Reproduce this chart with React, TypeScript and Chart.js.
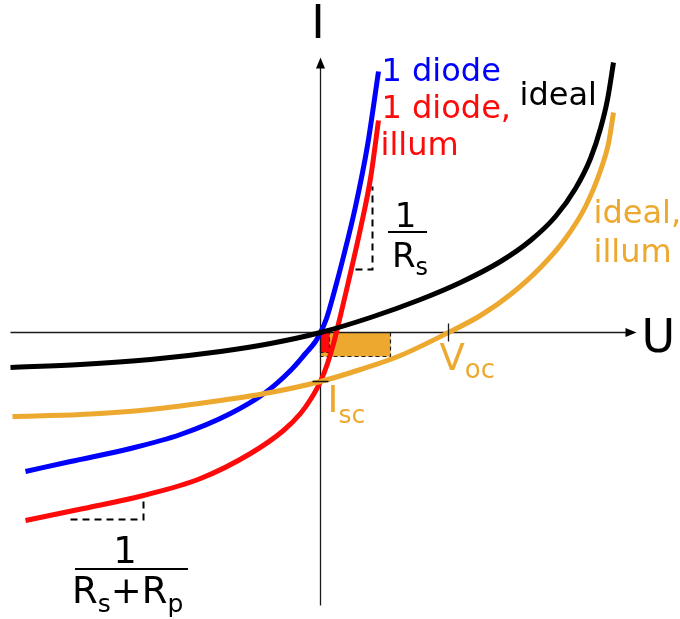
import React, { useEffect, useRef } from "react";
import { Chart, registerables } from "chart.js";

Chart.register(...registerables);

// Current–voltage curves (U horizontal, I vertical), arbitrary units.
const idealU = [-3.1, -2.4, -1.7, -1.0, -0.5, 0, 0.5, 1.0, 1.4, 1.8, 2.1, 2.35, 2.55, 2.7, 2.8, 2.87, 2.93];
const idealI = [-0.35, -0.32, -0.27, -0.19, -0.11, 0, 0.15, 0.33, 0.5, 0.71, 0.92, 1.16, 1.44, 1.74, 2.04, 2.33, 2.7];

const idealIllumU = [-3.08, -2.4, -1.7, -1.0, -0.5, 0, 0.4, 0.8, 1.28, 1.6, 1.9, 2.2, 2.45, 2.65, 2.8, 2.88, 2.93];
const idealIllumI = [-0.84, -0.82, -0.77, -0.68, -0.6, -0.49, -0.37, -0.23, 0, 0.17, 0.38, 0.65, 0.94, 1.26, 1.62, 1.89, 2.2];

const diodeU = [-2.95, -2.5, -1.9, -1.4, -0.9, -0.55, -0.3, -0.15, -0.05, 0, 0.06, 0.13, 0.23, 0.35, 0.47, 0.58];
const diodeI = [-1.39, -1.29, -1.16, -1.02, -0.81, -0.6, -0.38, -0.21, -0.09, 0, 0.14, 0.38, 0.76, 1.26, 1.87, 2.61];

const diodeIllumU = [-2.95, -2.37, -1.77, -1.2, -0.7, -0.37, -0.2, -0.1, 0, 0.07, 0.13, 0.2, 0.28, 0.4, 0.5, 0.58];
const diodeIllumI = [-1.88, -1.76, -1.63, -1.46, -1.21, -0.98, -0.81, -0.67, -0.49, -0.31, -0.11, 0.17, 0.51, 1.04, 1.54, 2.12];

// Characteristic points
const isc = -0.49;
const voc = 1.28;
const mppIdealIllum = [0.7, -0.24];
const mppDiodeIllum = [0.09, -0.2];

// Slope markers: [u start, u corner, i corner, i end]
const rsMarker = [0.35, 0.52, 0.63, 1.46];
const rpMarker = [-2.5, -1.77, -1.87, -1.66];

// Axis extents
const axisU = [-3.1, 3.16];
const axisI = [-2.73, 2.75];

const ORANGE = "#EDA92F";
const RED = "#FF0A0A";
const BLUE = "#0000FF";
const BLACK = "#000000";
const FONT = "'DejaVu Sans', 'Liberation Sans', sans-serif";

const toPoints = (u: number[], i: number[]) => u.map((v, k) => ({ x: v, y: i[k] }));

const annotations = {
  id: "ivAnnotations",
  beforeDatasetsDraw(chart: any) {
    const { ctx, scales } = chart;
    const px = (u: number) => scales.x.getPixelForValue(u);
    const py = (i: number) => scales.y.getPixelForValue(i);
    ctx.save();

    // maximum power rectangles
    const rect = (corner: number[], fill: string) => {
      const x0 = px(0), y0 = py(0), x1 = px(corner[0]), y1 = py(corner[1]);
      ctx.fillStyle = fill;
      ctx.fillRect(x0, y0, x1 - x0, y1 - y0);
      ctx.setLineDash([4, 3]);
      ctx.strokeStyle = "#222";
      ctx.lineWidth = 1.2;
      ctx.strokeRect(x0, y0, x1 - x0, y1 - y0);
      ctx.setLineDash([]);
    };
    rect(mppIdealIllum, ORANGE);
    rect(mppDiodeIllum, RED);

    // axes with arrow heads
    ctx.strokeStyle = "#1a1a1a";
    ctx.fillStyle = "#000";
    ctx.lineWidth = 1.3;
    const ax0 = px(axisU[0]), ax1 = px(axisU[1]), ay = py(0);
    ctx.beginPath();
    ctx.moveTo(ax0, ay);
    ctx.lineTo(ax1 - 8, ay);
    ctx.stroke();
    ctx.beginPath();
    ctx.moveTo(ax1, ay);
    ctx.lineTo(ax1 - 11, ay - 4.5);
    ctx.lineTo(ax1 - 11, ay + 4.5);
    ctx.closePath();
    ctx.fill();

    const ux = px(0), y0 = py(axisI[0]), y1 = py(axisI[1]);
    ctx.beginPath();
    ctx.moveTo(ux, y0);
    ctx.lineTo(ux, y1 + 8);
    ctx.stroke();
    ctx.beginPath();
    ctx.moveTo(ux, y1);
    ctx.lineTo(ux - 4.5, y1 + 11);
    ctx.lineTo(ux + 4.5, y1 + 11);
    ctx.closePath();
    ctx.fill();
    ctx.restore();
  },
  afterDatasetsDraw(chart: any) {
    const { ctx, scales } = chart;
    const px = (u: number) => scales.x.getPixelForValue(u);
    const py = (i: number) => scales.y.getPixelForValue(i);
    ctx.save();

    // Isc and Voc ticks
    ctx.strokeStyle = "#1a1a1a";
    ctx.lineWidth = 1.3;
    ctx.beginPath();
    ctx.moveTo(px(0) - 8, py(isc));
    ctx.lineTo(px(0) + 8, py(isc));
    ctx.moveTo(px(voc), py(0) - 9);
    ctx.lineTo(px(voc), py(0) + 9);
    ctx.stroke();

    // slope markers
    ctx.strokeStyle = "#000";
    ctx.lineWidth = 2;
    ctx.setLineDash([7, 5]);
    const marker = (m: number[]) => {
      ctx.beginPath();
      ctx.moveTo(px(m[0]), py(m[2]));
      ctx.lineTo(px(m[1]), py(m[2]));
      ctx.lineTo(px(m[1]), py(m[3]));
      ctx.stroke();
    };
    marker(rsMarker);
    marker(rpMarker);
    ctx.setLineDash([]);

    const text = (s: string, u: number, i: number, size: number, color: string, align: CanvasTextAlign = "left") => {
      ctx.font = `${size}px ${FONT}`;
      ctx.fillStyle = color;
      ctx.textAlign = align;
      ctx.textBaseline = "alphabetic";
      ctx.fillText(s, px(u), py(i));
      ctx.textAlign = "left";
      return ctx.measureText(s).width;
    };
    // text followed by a subscript
    const withSub = (main: string, sub: string, x: number, y: number, size: number, subSize: number, drop: number, color: string) => {
      ctx.font = `${size}px ${FONT}`;
      ctx.fillStyle = color;
      ctx.textAlign = "left";
      ctx.fillText(main, x, y);
      const w = ctx.measureText(main).width;
      ctx.font = `${subSize}px ${FONT}`;
      ctx.fillText(sub, x + w, y + drop);
      return w + ctx.measureText(sub).width;
    };

    // axis titles
    text("I", -0.025, 2.945, 46, BLACK, "center");
    text("U", 3.21, -0.195, 46, BLACK);

    // curve labels
    text("1 diode", 0.61, 2.52, 32, BLUE);
    text("1 diode,", 0.61, 2.15, 32, RED);
    text("illum", 0.6, 1.78, 32, RED);
    text("ideal", 1.99, 2.28, 32, BLACK);
    text("ideal,", 2.73, 1.1, 32, ORANGE);
    text("illum", 2.73, 0.71, 32, ORANGE);

    // Voc and Isc
    withSub("V", "oc", px(1.19), py(-0.375), 37, 26, 8, ORANGE);
    withSub("I", "sc", px(0.07), py(-0.795), 37, 25, 11, ORANGE);

    // 1 / Rs
    text("1", 0.85, 1.055, 34, BLACK, "center");
    ctx.fillStyle = BLACK;
    ctx.fillRect(px(0.675), py(1.005) - 1, px(1.065) - px(0.675), 2);
    withSub("R", "s", px(0.715), py(0.655), 34, 24, 8, BLACK);

    // 1 / (Rs + Rp)
    text("1", -1.955, -2.305, 37, BLACK, "center");
    ctx.fillStyle = BLACK;
    ctx.fillRect(px(-2.455), py(-2.365) - 1, px(-1.325) - px(-2.455), 2);
    let x = px(-2.485);
    const yb = py(-2.705);
    x += withSub("R", "s", x, yb, 37, 25, 9, BLACK);
    ctx.font = `37px ${FONT}`;
    ctx.fillText("+", x, yb);
    x += ctx.measureText("+").width;
    withSub("R", "p", x, yb, 37, 25, 9, BLACK);

    ctx.restore();
  },
};

export default function App() {
  const canvasRef = useRef<HTMLCanvasElement | null>(null);

  useEffect(() => {
    const canvas = canvasRef.current;
    if (!canvas) return;
    const line = (label: string, u: number[], i: number[], color: string) => ({
      label,
      data: toPoints(u, i),
      showLine: true,
      borderColor: color,
      backgroundColor: color,
      borderWidth: 5,
      pointRadius: 0,
      cubicInterpolationMode: "monotone" as const,
    });
    const chart = new Chart(canvas, {
      type: "scatter",
      data: {
        datasets: [
          line("ideal", idealU, idealI, BLACK),
          line("ideal, illum", idealIllumU, idealIllumI, ORANGE),
          line("1 diode", diodeU, diodeI, BLUE),
          line("1 diode, illum", diodeIllumU, diodeIllumI, RED),
        ],
      },
      options: {
        animation: false,
        responsive: false,
        devicePixelRatio: 1,
        events: [],
        layout: { padding: 0 },
        plugins: { legend: { display: false }, tooltip: { enabled: false } },
        scales: {
          x: { type: "linear", min: -3.205, max: 3.595, display: false },
          y: { type: "linear", min: -2.865, max: 3.325, display: false },
        },
      },
      plugins: [annotations],
    });
    return () => chart.destroy();
  }, []);

  return (
    <div style={{ position: "absolute", left: 0, top: 0, width: 680, height: 619, background: "#fff" }}>
      <canvas ref={canvasRef} width={680} height={619} />
    </div>
  );
}
